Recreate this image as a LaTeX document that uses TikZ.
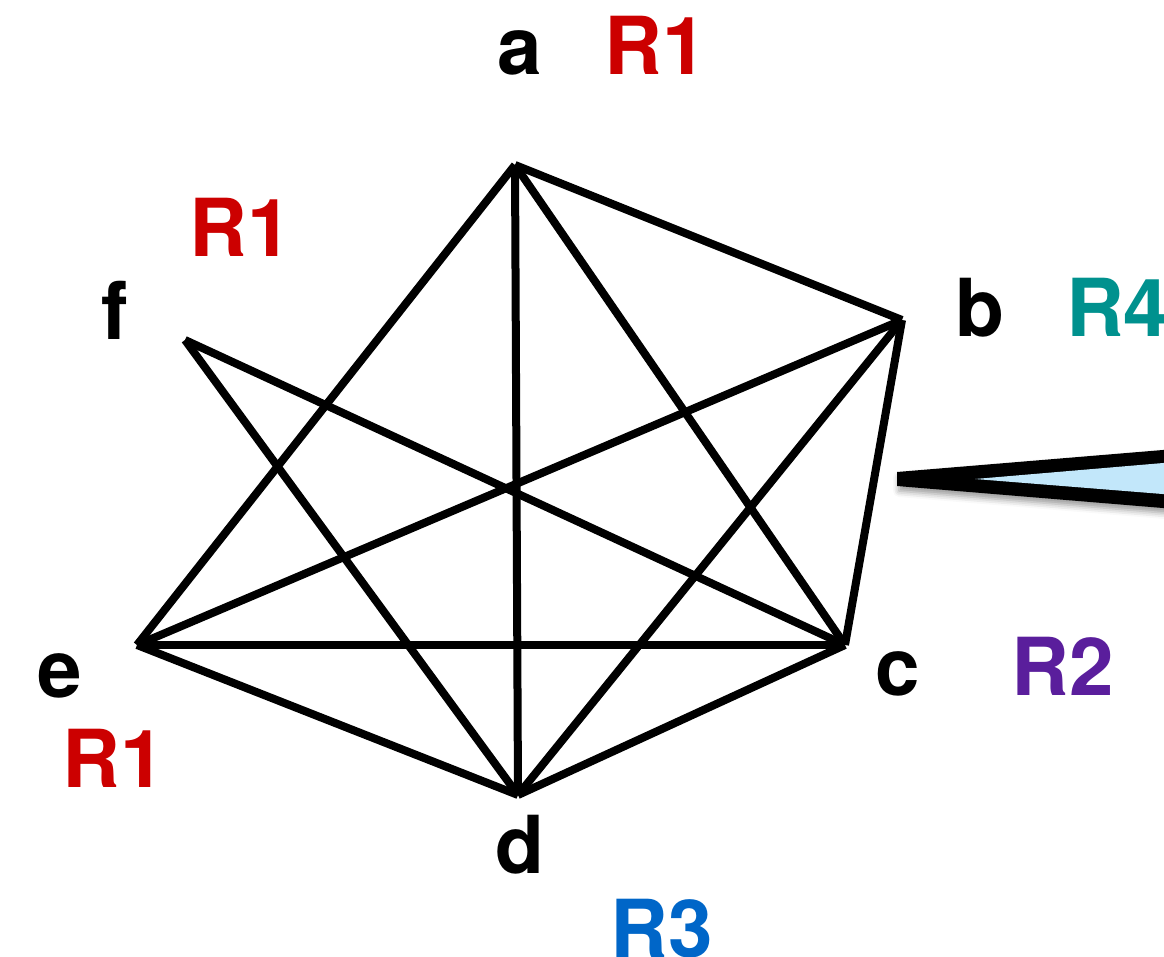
\documentclass[tikz,border=0pt]{standalone}
\usepackage{fontspec}
\setmainfont{TeX Gyre Heros}
\usetikzlibrary{shadows.blur}
\definecolor{regred}{HTML}{CC0000}
\definecolor{regteal}{HTML}{00918E}
\definecolor{regpurple}{HTML}{5A1E9C}
\definecolor{regblue}{HTML}{0066C8}
\definecolor{calloutfill}{HTML}{C2E7FA}
\begin{document}
\begin{tikzpicture}[
        x=1pt, y=-1pt,
        font=\fontsize{80}{90}\selectfont\bfseries,
        vlab/.style={anchor=base, inner sep=0pt, text=black},
        rlab/.style={anchor=base, inner sep=0pt},
        edge/.style={draw=black, line width=8pt, line cap=butt},
    ]
    \useasboundingbox (0,0) rectangle (1164,957);
    \clip (0,0) rectangle (1164,957);

    % vertices
    \coordinate (a) at (515,165);
    \coordinate (b) at (902,320);
    \coordinate (c) at (845,645);
    \coordinate (d) at (518,795);
    \coordinate (e) at (137,645);
    \coordinate (f) at (185,340);

    \foreach \u/\v in {a/e, a/d, a/c, a/b, b/e, b/d, b/c, f/c, f/d, e/c, e/d, d/c}
        \draw[edge] (\u) -- (\v);

    % vertex names
    \node[vlab] (la) at (520,75)  {a};
    \node[vlab] (lb) at (980,337) {b};
    \node[vlab] (lc) at (898,695) {c};
    \node[vlab] (ld) at (520,873) {d};
    \node[vlab] (le) at (60,697)  {e};
    \node[vlab] (lf) at (115,340) {f};

    % regions
    \node[rlab, text=regred]    (ra) at (656,75)  {R1};
    \node[rlab, text=regred]    (rf) at (241,257) {R1};
    \node[rlab, text=regred]    (re) at (114,787) {R1};
    \node[rlab, text=regteal, anchor=base west] (rb) at (1066,337) {R4};
    \node[rlab, text=regpurple] (rc) at (1063,695) {R2};
    \node[rlab, text=regblue]   (rd) at (662,957) {R3};

    % callout wedge
    \fill[black, blur shadow={shadow xshift=2pt, shadow yshift=-5pt, shadow blur radius=6pt}]
        (897,472) -- (1175,449) -- (1175,509) -- (897,486) -- cycle;
    \fill[calloutfill] (975,479) -- (1175,462) -- (1175,495) -- cycle;
\end{tikzpicture}
\end{document}
